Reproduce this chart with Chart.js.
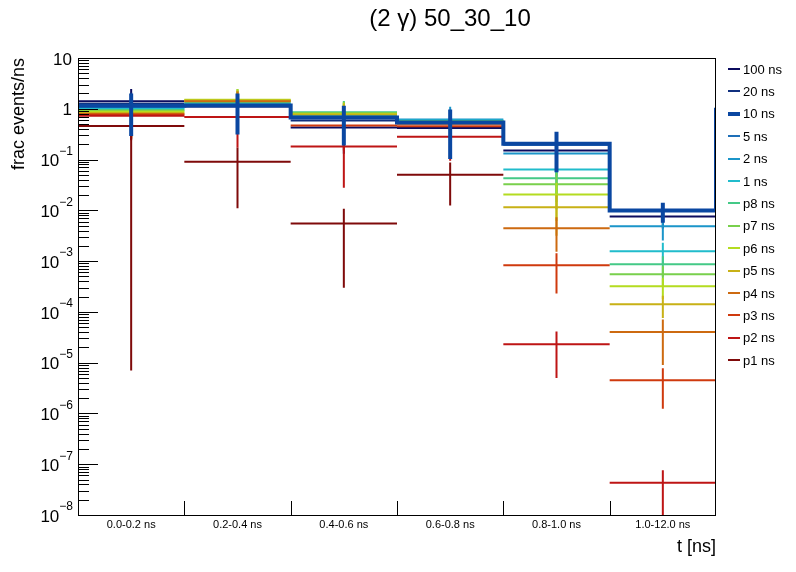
<!DOCTYPE html>
<html>
<head>
<meta charset="UTF-8">
<title>(2 γ) 50_30_10</title>
<script src="https://cdn.jsdelivr.net/npm/chart.js"></script>
<style>
  html, body { margin: 0; padding: 0; background: #ffffff; }
  #wrap { width: 796px; height: 572px; }
</style>
</head>
<body>
<div id="wrap"><canvas id="chart" width="796" height="572"></canvas></div>
<script>
// bins (equal width on the axis)
const binLabels = ['0.0-0.2 ns', '0.2-0.4 ns', '0.4-0.6 ns', '0.6-0.8 ns', '0.8-1.0 ns', '1.0-12.0 ns'];
const yExponents = [1, 0, -1, -2, -3, -4, -5, -6, -7, -8];

const seriesNames = ['100 ns', '20 ns', '10 ns', '5 ns', '2 ns', '1 ns', 'p8 ns', 'p7 ns', 'p6 ns', 'p5 ns', 'p4 ns', 'p3 ns', 'p2 ns', 'p1 ns'];
const seriesColors = ['#0b0b5e', '#10307f', '#0a47a1', '#1e6fb8', '#1b95c9', '#21bccc', '#44c987', '#79d04c', '#b4dc20', '#c8b116', '#cd6a10', '#cf3a0e', '#be1515', '#7f0a0a'];

// frac events/ns per bin, and errors
const v100 = [1.40, 1.11, 0.43, 0.42, 0.151, 0.0076];
const e100 = [1.06, 0.75, 0.30, 0.29, 0.095, 0.0032];
const v20 = [1.25, 1.13, 0.59, 0.52, 0.20, 0.0098];
const e20 = [0.85, 0.78, 0.41, 0.36, 0.14, 0.0040];
const v10 = [1.15, 1.16, 0.67, 0.537, 0.204, 0.0099];
const e10 = [0.86, 0.85, 0.48, 0.435, 0.148, 0.0042];
const overflow10 = 1.05;
const v5 = [1.09, 1.19, 0.71, 0.57, 0.195, 0.0097];
const e5 = [0.72, 0.76, 0.45, 0.38, 0.13, 0.0040];
const v2 = [1.04, 1.22, 0.73, 0.612, 0.132, 0.00485];
const e2 = [0.70, 0.78, 0.40, 0.48, 0.085, 0.0023];
const v1 = [1.0, 1.26, 0.75, 0.585, 0.064, 0.00157];
const e1 = [0.68, 0.75, 0.39, 0.36, 0.044, 0.00072];
const vp8 = [0.95, 1.34, 0.85, 0.57, 0.0426, 8.7e-4];
const ep8 = [0.64, 0.90, 0.58, 0.37, 0.028, 3.8e-4];
const vp7 = [0.91, 1.44, 0.83, 0.56, 0.0325, 5.5e-4];
const ep7 = [0.62, 1.02, 0.55, 0.37, 0.022, 2.4e-4];
const vp6 = [0.87, 1.50, 0.79, 0.55, 0.0206, 3.2e-4];
const ep6 = [0.59, 0.92, 0.52, 0.36, 0.0144, 1.4e-4];
const vp5 = [0.83, 1.46, 0.77, 0.545, 0.01145, 1.42e-4];
const ep5 = [0.56, 0.84, 0.50, 0.36, 0.0083, 6.6e-5];
const vp4 = [0.79, 1.40, 0.68, 0.51, 0.00443, 4.0e-5];
const ep4 = [0.53, 0.80, 0.45, 0.34, 0.0029, 3.1e-5];
const vp3 = [0.76, 1.17, 0.47, 0.455, 8.3e-4, 4.5e-6];
const ep3 = [0.51, 0.75, 0.32, 0.30, 6.0e-4, 3.26e-6];
const vp2 = [0.73, 0.69, 0.18, 0.28, 2.3e-5, 4.3e-8];
const ep2 = [0.49, 0.52, 0.152, 0.185, 1.8e-5, 3.3e-8];
const vp1 = [0.46, 0.091, 0.0055, 0.050, 3e-10, 1e-10];
const ep1 = [0.459993, 0.080, 0.0052, 0.0376, 2e-10, 1e-10];

const seriesValues = [v100, v20, v10, v5, v2, v1, vp8, vp7, vp6, vp5, vp4, vp3, vp2, vp1];
const seriesErrors = [e100, e20, e10, e5, e2, e1, ep8, ep7, ep6, ep5, ep4, ep3, ep2, ep1];
const THICK = 2; // index of the 10 ns histogram

const FONT = '"Liberation Sans", Arial, Helvetica, sans-serif';

function buildPoints(vals, errs, stepped) {
  const pts = [];
  if (stepped) {
    vals.forEach((v, b) => { pts.push({ x: b, y: v }, { x: b + 1, y: v }); });
    pts.push({ x: vals.length, y: overflow10 }, { x: vals.length, y: null });
  } else {
    vals.forEach((v, b) => { pts.push({ x: b, y: v }, { x: b + 1, y: v }, { x: b + 1, y: null }); });
  }
  vals.forEach((v, b) => {
    const lo = Math.max(v - errs[b], 1e-12);
    pts.push({ x: b + 0.5, y: lo }, { x: b + 0.5, y: v + errs[b] }, { x: b + 0.5, y: null });
  });
  return pts;
}

const datasets = seriesNames.map((name, i) => ({
  label: name,
  data: buildPoints(seriesValues[i], seriesErrors[i], i === THICK),
  borderColor: seriesColors[i],
  backgroundColor: seriesColors[i],
  borderWidth: i === THICK ? 4 : 2,
  borderJoinStyle: 'miter',
  pointRadius: 0,
  tension: 0,
  spanGaps: false,
  fill: false,
  order: i === THICK ? 0 : 14 - i
}));

const rootStyle = {
  id: 'rootStyle',
  afterDraw(chart) {
    const { ctx, chartArea: a, scales } = chart;
    const xs = scales.x, ys = scales.y;
    ctx.save();
    ctx.strokeStyle = '#000';
    ctx.fillStyle = '#000';
    ctx.lineWidth = 1;

    // frame
    ctx.strokeRect(a.left + 0.5, a.top + 0.5, a.right - a.left - 1, a.bottom - a.top);

    // y ticks, inward
    ctx.beginPath();
    for (let k = -8; k <= 0; k++) {
      for (let m = 1; m <= 9; m++) {
        const y = Math.round(ys.getPixelForValue(m * Math.pow(10, k))) + 0.5;
        const len = m === 1 ? 20 : 11;
        ctx.moveTo(a.left, y); ctx.lineTo(a.left + len, y);
      }
    }
    const yTop = Math.round(ys.getPixelForValue(10)) + 0.5;
    ctx.moveTo(a.left, yTop); ctx.lineTo(a.left + 20, yTop);
    // x ticks at bin edges
    for (let b = 1; b < binLabels.length; b++) {
      const x = Math.round(xs.getPixelForValue(b)) + 0.5;
      ctx.moveTo(x, a.bottom); ctx.lineTo(x, a.bottom - 14);
    }
    ctx.stroke();

    // y labels
    ctx.textAlign = 'right';
    ctx.textBaseline = 'middle';
    yExponents.forEach(k => {
      const y = ys.getPixelForValue(Math.pow(10, k));
      if (k === 1 || k === 0) {
        ctx.font = '17px ' + FONT;
        ctx.fillText(k === 1 ? '10' : '1', 72, y + 2);
      } else {
        ctx.font = '12px ' + FONT;
        const sup = '\u2212' + (-k);
        ctx.fillText(sup, 73, y - 8);
        const w = ctx.measureText(sup).width;
        ctx.font = '17px ' + FONT;
        ctx.fillText('10', 73 - w, y + 2);
      }
    });

    // x labels
    ctx.textAlign = 'center';
    ctx.font = '11px ' + FONT;
    binLabels.forEach((lab, b) => {
      ctx.fillText(lab, xs.getPixelForValue(b + 0.5), a.bottom + 10);
    });

    // axis titles
    ctx.font = '18px ' + FONT;
    ctx.textAlign = 'right';
    ctx.fillText('t [ns]', a.right, 547);
    ctx.save();
    ctx.translate(19, a.top);
    ctx.rotate(-Math.PI / 2);
    ctx.textAlign = 'right';
    ctx.fillText('frac events/ns', 0, 0);
    ctx.restore();

    // title
    ctx.font = '24px ' + FONT;
    ctx.textAlign = 'center';
    ctx.fillText('(2 \u03b3) 50_30_10', 450, 19);

    // legend
    ctx.font = '13px ' + FONT;
    ctx.textAlign = 'left';
    chart.data.datasets.forEach((ds, i) => {
      const y = 69 + i * 22.4;
      ctx.strokeStyle = ds.borderColor;
      ctx.lineWidth = ds.borderWidth;
      ctx.beginPath();
      ctx.moveTo(728, Math.round(y)); ctx.lineTo(740, Math.round(y));
      ctx.stroke();
      ctx.fillStyle = '#000';
      ctx.fillText(ds.label, 743, y + 1);
    });
    ctx.restore();
  }
};

new Chart(document.getElementById('chart'), {
  type: 'line',
  data: { datasets },
  options: {
    responsive: false,
    animation: false,
    events: [],
    layout: { padding: { top: 58, right: 80, left: 0, bottom: 0 } },
    plugins: { legend: { display: false }, title: { display: false }, tooltip: { enabled: false } },
    scales: {
      x: {
        type: 'linear', min: 0, max: binLabels.length,
        ticks: { display: false }, grid: { display: false }, border: { display: false },
        afterFit: s => { s.height = 57; }
      },
      y: {
        type: 'logarithmic', min: 1e-8, max: 10,
        ticks: { display: false }, grid: { display: false }, border: { display: false },
        afterFit: s => { s.width = 78; }
      }
    }
  },
  plugins: [rootStyle]
});
</script>
</body>
</html>
